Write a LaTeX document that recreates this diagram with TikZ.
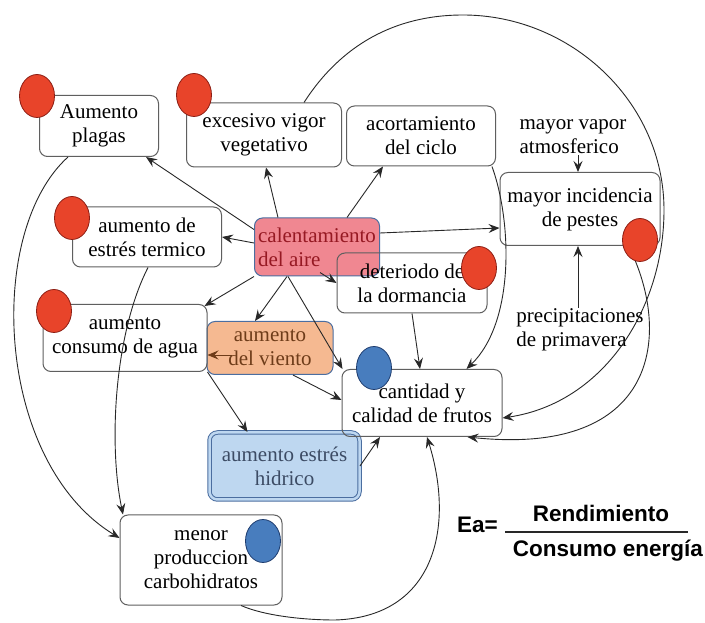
\documentclass[tikz,border=0pt]{standalone}
\usepackage{fontspec}
\setmainfont{Liberation Serif}
\newfontfamily\formfont{Liberation Sans}
\usetikzlibrary{arrows.meta,shapes.geometric,calc}

\definecolor{linec}{RGB}{40,40,40}
\definecolor{boxc}{RGB}{95,95,95}
\definecolor{calfill}{RGB}{240,135,145}
\definecolor{caltext}{RGB}{150,25,35}
\definecolor{blueedge}{RGB}{75,110,160}
\definecolor{vienfill}{RGB}{245,185,145}
\definecolor{vientext}{RGB}{110,60,25}
\definecolor{hidfill}{RGB}{190,215,240}
\definecolor{hidtext}{RGB}{60,75,100}
\definecolor{redfill}{RGB}{232,68,42}
\definecolor{rededge}{RGB}{140,30,20}
\definecolor{bluefill}{RGB}{72,125,190}
\definecolor{blueedgedark}{RGB}{30,60,110}

\begin{document}
\begin{tikzpicture}[x=1pt,y=1pt,
  font=\fontsize{21}{24}\selectfont,
  box/.style={draw=boxc, line width=1pt, rounded corners=8pt, align=center, inner sep=2pt},
  plaintext/.style={align=left, inner sep=1pt},
  arr/.style={draw=linec, line width=0.9pt, -{Stealth[length=11pt,width=9pt,inset=4pt]}},
  reddot/.style={ellipse, draw=rededge, line width=0.8pt, fill=redfill, minimum width=35pt, minimum height=43pt, inner sep=0pt},
  bluedot/.style={ellipse, draw=blueedgedark, line width=0.8pt, fill=bluefill, minimum width=35pt, minimum height=43pt, inner sep=0pt},
  formula/.style={font=\formfont\bfseries\fontsize{22.5}{26}\selectfont, inner sep=0pt}
]
\useasboundingbox[fill=white] (0,0) rectangle (705,622);

% coloured boxes
\node[box, draw=blueedge, fill=calfill, text=caltext, align=left, minimum width=125pt, minimum height=58pt] (cal) at (317,375) {calentamiento\\del aire};
\node[box, draw=blueedge, fill=vienfill, text=vientext, minimum width=126pt, minimum height=53pt] (viento) at (270,274) {aumento\\del viento};
\node[box, draw=blueedge, double=hidfill, double distance=2.5pt, fill=hidfill, text=hidtext, minimum width=150pt, minimum height=67pt] (hidrico) at (284.5,156) {aumento estrés\\hidrico};

% plain boxes
\node[box, minimum width=119pt, minimum height=61pt] (plagas) at (99,496) {Aumento\\plagas};
\node[box, minimum width=155pt, minimum height=64pt] (vigor) at (264,487) {excesivo vigor\\vegetativo};
\node[box, minimum width=149pt, minimum height=60pt] (acort) at (421,486) {acortamiento\\del ciclo};
\node[box, minimum width=160pt, minimum height=73pt] (incid) at (580,413) {mayor incidencia\\de pestes};
\node[box, minimum width=149pt, minimum height=60pt] (termico) at (147,385) {aumento de\\estrés termico};
\node[box, minimum width=150pt, minimum height=60pt] (deter) at (412,339) {deteriodo de\\la dormancia};
\node[box, minimum width=164pt, minimum height=67pt] (consumo) at (125,284) {aumento\\consumo de agua};
\node[box, minimum width=160pt, minimum height=67pt] (cant) at (422,219) {cantidad y\\calidad de frutos};
\node[box, minimum width=162pt, minimum height=90pt] (menor) at (201,62) {menor\\produccion\\carbohidratos};

% free texts
\node[plaintext] (vapor) at (573,485) {mayor vapor\\atmosferico};
\node[plaintext] (precip) at (580,292) {precipitaciones\\de primavera};

% straight connectors
\draw[arr] ([yshift=-12pt]cal.north west) -- ([xshift=-13pt]plagas.south east);
\draw[arr] ([xshift=-39pt]cal.north) -- ([xshift=2pt]vigor.south);
\draw[arr] ([xshift=30pt]cal.north) -- ([xshift=-38pt]acort.south);
\draw[arr] ([yshift=14pt]cal.east) -- ([yshift=-19pt]incid.west);
\draw[arr] ([yshift=4pt]cal.west) -- (termico.east);
\draw[arr] ([xshift=3pt,yshift=4pt]cal.south) -- (deter.west);
\draw[arr] (cal.south west) -- ([xshift=-3pt,yshift=-2pt]consumo.north east);
\draw[arr] ([xshift=-30pt]cal.south) -- ([xshift=-15pt]viento.north);
\draw[arr] ([xshift=-29pt]cal.south) -- ([xshift=1pt]cant.north west);
\draw[arr, draw=vientext] ([xshift=25pt,yshift=-7pt]viento.west) -- ([yshift=-17pt]consumo.east);
\draw[arr] ([xshift=23pt]viento.south) -- ([yshift=3pt]cant.west);
\draw[arr] (consumo.south east) -- ([xshift=-37pt]hidrico.north);
\draw[arr] (hidrico.east) -- ([xshift=-42pt]cant.south);
\draw[arr] (deter.south) -- ([xshift=-2pt]cant.north);
\draw[arr] ([xshift=5pt]vapor.south) -- ([xshift=-2pt]incid.north);
\draw[arr] ([xshift=-2pt]precip.north) -- ([xshift=-2pt]incid.south);

% curved connectors
\draw[arr] ([xshift=-4pt]acort.south east) .. controls (512,400) and (515,300) .. ([xshift=-36pt]cant.north east);
\draw[arr] ([xshift=40pt]vigor.north) .. controls (341,577) and (395,607) .. (463,607)
   .. controls (571,607) and (664,520) .. (664,412)
   .. controls (664,314) and (604,219) .. ([yshift=-15pt]cant.east);
\draw[arr] ([xshift=-32pt]incid.south east) .. controls (672,290) and (660,165) .. ([xshift=-35pt]cant.south east);
\draw[arr] ([xshift=40pt]menor.south) .. controls (265,6) and (305,2) .. (335,2)
   .. controls (435,5) and (455,95) .. ([xshift=5pt]cant.south);
\draw[arr] ([xshift=-31pt]plagas.south) .. controls (-15,390) and (-5,160) .. ([yshift=22pt]menor.west);
\draw[arr] ([xshift=1pt]termico.south) .. controls (115,290) and (108,180) .. ([xshift=-78pt]menor.north);

% dots
\node[reddot] (d1) at (37,526) {};
\node[reddot] (d2) at (194,527) {};
\node[reddot] (d3) at (72,404) {};
\node[reddot] (d4) at (54,311) {};
\node[reddot] (d5) at (479,354) {};
\node[reddot] (d6) at (640,382) {};
\node[bluedot] (d7) at (374,254) {};
\node[bluedot] (d8) at (263,81) {};

% formula
\node[formula, anchor=base west] (ea) at (457,89) {Ea=};
\node[formula, anchor=base] (num) at (601,100) {Rendimiento};
\node[formula, anchor=base] (den) at (608,65) {Consumo energía};
\coordinate (fl) at (505,90);
\coordinate (fr) at (688,90);
\draw[line width=1.2pt, draw=linec] (fl) -- (fr);
\end{tikzpicture}
\end{document}
